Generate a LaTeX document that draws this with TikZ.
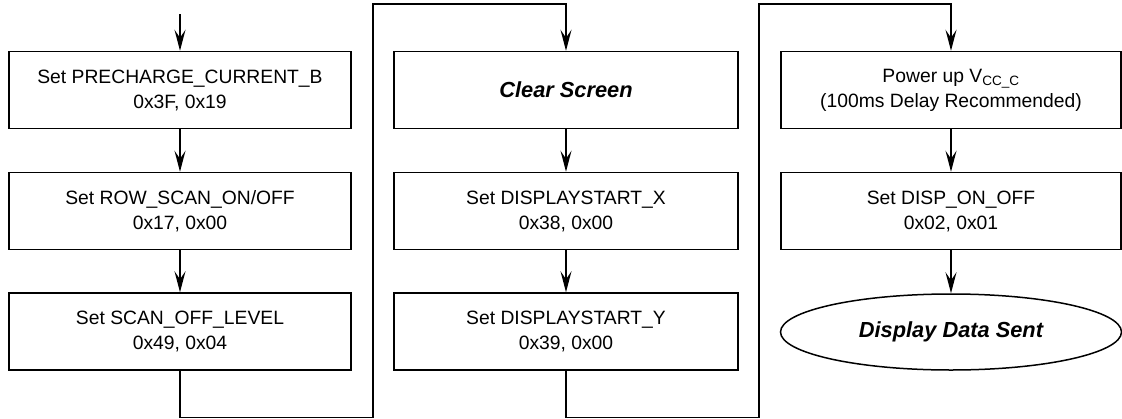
\documentclass[tikz,border=0pt]{standalone}
\usepackage{fontspec}
\setmainfont{Liberation Sans}
\usetikzlibrary{arrows.meta,shapes.geometric}
\begin{document}
\begin{tikzpicture}[x=1pt,y=-1pt,
  box/.style={draw,line width=1.5pt,minimum width=342pt,minimum height=77pt,align=center,inner sep=0pt,font=\fontsize{19.3}{25}\selectfont},
  oval/.style={draw,ellipse,line width=1.5pt,minimum width=342pt,minimum height=76pt,inner sep=0pt,font=\fontsize{21.8}{25}\selectfont\bfseries\itshape},
  flow/.style={line width=1.5pt,-{Stealth[length=21pt,width=11pt,inset=8pt]}},
  bi/.style={font=\fontsize{21.8}{25}\selectfont\bfseries\itshape}]
\useasboundingbox (0,0) rectangle (1122,418);
% column 1
\node[box] (a1) at (180,90) {Set PRECHARGE\_CURRENT\_B\\0x3F, 0x19};
\node[box] (a2) at (180,211) {Set ROW\_SCAN\_ON/OFF\\0x17, 0x00};
\node[box] (a3) at (180,331.5) {Set SCAN\_OFF\_LEVEL\\0x49, 0x04};
% column 2
\node[box,bi,minimum width=344pt] (b1) at (566,90) {Clear Screen};
\node[box,minimum width=344pt] (b2) at (566,211) {Set DISPLAYSTART\_X\\0x38, 0x00};
\node[box,minimum width=344pt] (b3) at (566,331.5) {Set DISPLAYSTART\_Y\\0x39, 0x00};
% column 3
\node[box,minimum width=340pt] (c1) at (951,90) {Power up V\textsubscript{CC\_C}\\(100ms Delay Recommended)};
\node[box,minimum width=340pt] (c2) at (951,211) {Set DISP\_ON\_OFF\\0x02, 0x01};
\node[oval,minimum width=341pt] (c3) at (951,332) {Display Data Sent};
\coordinate (start) at (180,14);
\draw[flow] (start) -- (a1);
\draw[flow] (a1) -- (a2);
\draw[flow] (a2) -- (a3);
\draw[flow] (a3.south) -- ++(0,46.5) -| (373,4) -| (b1.north);
\draw[flow] (b1) -- (b2);
\draw[flow] (b2) -- (b3);
\draw[flow] (b3.south) -- ++(0,46.5) -| (759,4) -| (c1.north);
\draw[flow] (c1) -- (c2);
\draw[flow] (c2) -- (c3);
\end{tikzpicture}
\end{document}
